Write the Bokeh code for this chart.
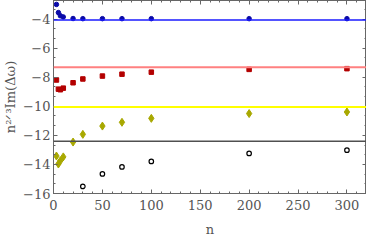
from bokeh.plotting import figure
from bokeh.models import Span, FixedTicker, LinearAxis, Range1d
from bokeh.embed import file_html
from bokeh.resources import INLINE

# ---- data ----
n_all = [3, 5, 7, 10, 20, 30, 50, 70, 100, 200, 300]
blue_y = [-2.99, -3.55, -3.77, -3.85, -3.96, -3.97, -3.97, -3.97, -3.97, -3.97, -3.97]
red_y = [-8.19, -8.82, -8.86, -8.75, -8.38, -8.12, -7.92, -7.79, -7.65, -7.46, -7.41]
yellow_y = [-13.42, -13.97, -13.75, -13.48, -12.46, -11.93, -11.36, -11.10, -10.83, -10.50, -10.39]
n_black = [30, 50, 70, 100, 200, 300]
black_y = [-15.51, -14.65, -14.17, -13.79, -13.24, -13.02]
limits = {"blue": -4.07, "red": -7.32, "yellow": -10.05, "black": -12.40}

x_ticks = [0, 50, 100, 150, 200, 250, 300]
y_ticks = [-16, -14, -12, -10, -8, -6, -4]
y_tick_labels = ["\u221216", "\u221214", "\u221212", "\u221210", "\u22128", "\u22126", "\u22124"]

FONT = "DejaVu Serif"
AX = "#666666"

p = figure(width=366, height=239, output_backend="svg", toolbar_location=None,
           x_range=Range1d(0, 320), y_range=Range1d(-16, -2.72),
           min_border_left=2, min_border_right=0, min_border_top=0, min_border_bottom=46)
p.grid.visible = False
p.outline_line_color = AX
p.background_fill_color = "white"

for ax in (p.xaxis[0], p.yaxis[0]):
    ax.axis_line_color = AX
    ax.major_tick_line_color = AX
    ax.minor_tick_line_color = AX
    ax.major_tick_in = 4
    ax.major_tick_out = 0
    ax.minor_tick_in = 2
    ax.minor_tick_out = 0
    ax.major_label_text_font = FONT
    ax.major_label_text_font_size = "13px"
    ax.major_label_text_color = "#555555"
    ax.axis_label_text_font = FONT
    ax.axis_label_text_font_size = "13px"
    ax.axis_label_text_font_style = "normal"
    ax.axis_label_text_color = "#555555"
    ax.major_label_standoff = 3

minor_y = [-16 + i * 2 / 3 for i in range(21)]
minor_x = list(range(0, 321, 10))
p.xaxis[0].ticker = FixedTicker(ticks=x_ticks, minor_ticks=minor_x)
p.yaxis[0].ticker = FixedTicker(ticks=y_ticks, minor_ticks=minor_y)
p.yaxis[0].major_label_overrides = dict(zip(y_ticks, y_tick_labels))
p.xaxis[0].major_label_standoff = 6
p.xaxis[0].axis_label = "n"
p.xaxis[0].axis_label_standoff = 9
p.yaxis[0].axis_label = "n\u00b2\u141f\u00b3Im(\u0394\u03c9)"
p.yaxis[0].axis_label_standoff = 2

# mirrored frame ticks (no labels)
for loc, ticks, minor in (("right", y_ticks, minor_y), ("above", x_ticks, minor_x)):
    a = LinearAxis(ticker=FixedTicker(ticks=ticks, minor_ticks=minor),
                   major_label_overrides={t: "" for t in ticks},
                   axis_line_color=AX,
                   major_tick_line_color=AX, minor_tick_line_color=AX,
                   major_tick_in=4, major_tick_out=0, minor_tick_in=2, minor_tick_out=0,
                   major_label_standoff=0, major_label_text_font_size="1px")
    p.add_layout(a, loc)

# limit lines
p.add_layout(Span(location=limits["blue"], dimension="width", line_color="#1a1aff", line_width=1.5))
p.add_layout(Span(location=limits["red"], dimension="width", line_color="#ff8080", line_width=2))
p.add_layout(Span(location=limits["yellow"], dimension="width", line_color="#ffff00", line_width=2))
p.add_layout(Span(location=limits["black"], dimension="width", line_color="#505050", line_width=1.5))

# points
p.scatter(n_all, blue_y, marker="circle", size=4.5, color="#0a0aa8")
p.scatter(n_all, red_y, marker="square", size=4.5, color="#b30000")
p.scatter(n_all, yellow_y, marker="diamond", size=8, color="#a8a800")
p.scatter(n_black, black_y, marker="circle", size=4.5, fill_color="white",
          line_color="black", line_width=1.2)

open("out.html", "w").write(file_html(p, INLINE))
